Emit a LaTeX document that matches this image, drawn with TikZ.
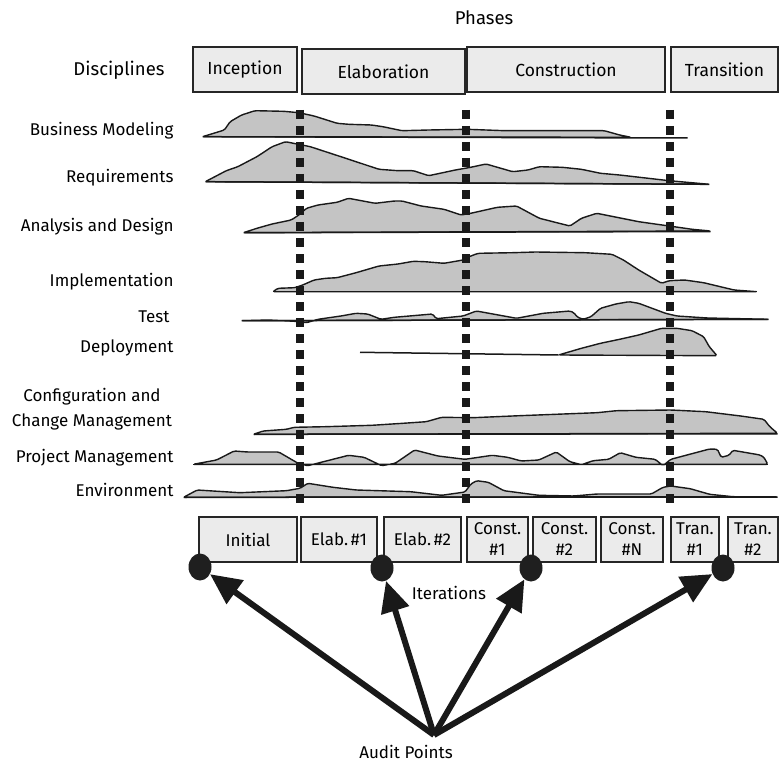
\documentclass[tikz,border=0pt]{standalone}
\usepackage{fontspec}
\setmainfont{Fira Sans}
\usetikzlibrary{positioning,shapes.geometric,arrows.meta}

\begin{document}
\begin{tikzpicture}[x=1pt, y=-1pt,
    nodes = {align = center, font=\fontsize{17}{23}\selectfont},
    phasebox/.style = {draw=black!85, fill=black!8, line width=1.4pt,
      minimum height=45pt, inner sep=0pt, font=\fontsize{17.5}{20}\selectfont},
    iterbox/.style = {draw=black!85, fill=black!8, line width=1.4pt,
      minimum height=45pt, inner sep=0pt, font=\fontsize{17}{21}\selectfont},
    hump/.style = {draw=black!90, fill=black!23, line width=1.4pt,
      rounded corners=1.5pt},
    axisline/.style = {draw=black!90, line width=1.5pt},
    milestone/.style = {draw=black!90, line width=7.5pt,
      dash pattern=on 9pt off 7pt},
    audit/.style = {ellipse, fill=black!88, minimum width=23pt,
      minimum height=27pt, inner sep=0pt}]
  \useasboundingbox (0,0) rectangle (779,762);

  % phases
  \node (phases) at (484,18) [font=\fontsize{18.5}{20}\selectfont] {Phases};
  \node (disc) at (119,70) [font=\fontsize{18.5}{20}\selectfont] {Disciplines};
  \node (incep) at (245,69.5) [phasebox, minimum width=104pt] {Inception};
  \node (elab) at (383.5,71.5) [phasebox, minimum width=163pt] {Elaboration};
  \node (const) at (566,69.5) [phasebox, minimum width=198pt] {Construction};
  \node (trans) at (724.5,69.5) [phasebox, minimum width=107pt] {Transition};

  % disciplines
  \node (bm) at (177,131) [anchor=east] {Business Modeling};
  \node (req) at (177,178) [anchor=east] {Requirements};
  \node (ad) at (177,227) [anchor=east] {Analysis and Design};
  \node (impl) at (177,282) [anchor=east] {Implementation};
  \node (test) at (173,317) [anchor=east] {Test};
  \node (depl) at (177,348) [anchor=east] {Deployment};
  \node (ccm) at (92,409.5) [font=\fontsize{17}{25}\selectfont]
    {Configuration and\\Change Management};
  \node (pm) at (177,458) [anchor=east] {Project Management};
  \node (env) at (177,490) [anchor=east] {Environment};

  % workload curves
  \filldraw[hump] (202.6,136.7) -- (224.4,130) -- (230.1,121.7) -- (241.6,115)
    -- (255,110.7) -- (283.6,111.3) -- (298.9,112.7) -- (314.1,116)
    -- (337.1,123.3) -- (348.5,124.3) -- (371.4,125) -- (382.9,126.7)
    -- (402,130.7) -- (428.7,130) -- (466.9,129.3) -- (505,130.7)
    -- (604.3,130.7) -- (619.6,135) -- (631,137.3) -- cycle;
  \draw[axisline] (202.6,136.7) -- (687.5,138);

  \filldraw[hump] (205.3,181.7) -- (226.3,170.7) -- (237.8,166.7) -- (256.9,156.7)
    -- (272.1,146.7) -- (285.5,141.7) -- (310.3,146.7) -- (340.9,156.7)
    -- (379,169.3) -- (398.1,170.7) -- (413.4,170.7) -- (428.7,175.7)
    -- (455.4,170) -- (470.7,167.3) -- (486,164) -- (512.7,171.7)
    -- (528,170) -- (539.4,166.7) -- (562.3,167.3) -- (581.4,169.3)
    -- (600.5,173.3) -- (619.6,175) -- (669.2,180.7) -- (709.3,184.3) -- cycle;
  \draw[axisline] (205.3,181.7) -- (709.3,184.3);

  \filldraw[hump] (243.5,232.7) -- (256.9,228.3) -- (272.1,224) -- (291.2,220)
    -- (298.9,215) -- (306.5,208.3) -- (318,205) -- (337.1,202.3)
    -- (348.5,198.3) -- (375.2,203.3) -- (394.3,201) -- (402,201)
    -- (421.1,206) -- (444,209.3) -- (461.1,215) -- (470.7,213.3)
    -- (497.4,207.3) -- (516.5,206) -- (539.4,218.3) -- (570,226)
    -- (581.4,218.3) -- (596.7,213.3) -- (638.7,221.7) -- (669.2,226)
    -- (692.1,229.3) -- (710.5,231) -- cycle;
  \draw[axisline] (243.5,232.7) -- (710.5,231.5);

  \filldraw[hump] (272.9,291.7) -- (277.9,288.3) -- (295,287.7) -- (302.7,285)
    -- (314.1,280) -- (325.6,278.3) -- (337.1,277.7) -- (356.1,272.7)
    -- (379,266) -- (398.1,264) -- (413.4,261.3) -- (424.9,261.7)
    -- (444,263.3) -- (463.1,260) -- (470.7,256) -- (478.3,253.3)
    -- (512.7,252.7) -- (535.6,252) -- (585.2,252.7) -- (612,254.3)
    -- (623.4,260) -- (638.7,270) -- (661.6,283.3) -- (669.2,280.7)
    -- (684.5,280) -- (703.6,282.7) -- (734.1,290) -- (757.1,291.7) -- cycle;
  \draw[axisline] (272.9,291.7) -- (757.1,291.7);

  \filldraw[hump] (241.6,320.7) -- (268.3,320) -- (295,321.3) -- (306.5,322.7)
    -- (318,319.3) -- (340.9,316) -- (356.1,313.3) -- (367.6,314)
    -- (381,319.3) -- (394.3,317.3) -- (432.5,314) -- (436.3,318.7)
    -- (463.1,316) -- (476.4,311) -- (516.5,318.3) -- (543.2,313.3)
    -- (570,311) -- (573.8,312.7) -- (577.6,317.3) -- (583.3,319.3)
    -- (591,316.7) -- (600.5,308.3) -- (615.8,304) -- (629.1,301.7)
    -- (638.7,303.3) -- (665.4,313.3) -- (676.9,316) -- (707.4,318)
    -- (768.5,319.3) -- cycle;
  \draw[axisline] (241.6,320.7) -- (768.5,319.3);

  \draw[axisline] (360,352.3) -- (558.5,355);
  \filldraw[hump] (558.5,355) -- (581.4,348.3) -- (600.5,343.3) -- (619.6,339.3)
    -- (638.7,335) -- (661.6,328.3) -- (676.9,328.3) -- (692.1,330.7)
    -- (703.6,336.7) -- (709.3,346.7) -- (717,355.7) -- cycle;

  \filldraw[hump] (253.5,434.3) -- (263.2,431) -- (286.5,429.3) -- (294.2,427.3)
    -- (325.3,426.7) -- (371.9,425.3) -- (402.9,423.3) -- (426.2,421.7)
    -- (441.7,417.3) -- (472.8,417.7) -- (519.4,415.7) -- (597,412.7)
    -- (616.4,410.7) -- (670.8,410) -- (705.7,411.7) -- (740.7,416)
    -- (763.9,419.3) -- (769.8,426.7) -- (777.5,433.3) -- cycle;
  \draw[axisline] (253.5,434.3) -- (777.5,433.8);

  \filldraw[hump] (193.3,464.3) -- (216.6,460) -- (234.1,451) -- (247.6,452)
    -- (278.7,452) -- (298.1,463.3) -- (307.8,465.7) -- (348.6,455.3)
    -- (364.1,457.3) -- (381.6,465.7) -- (395.2,463.3) -- (414.6,450)
    -- (437.9,456) -- (465,459.3) -- (492.2,455.3) -- (507.7,457.3)
    -- (521.3,461) -- (538.8,460) -- (556.3,452) -- (569.8,461.7)
    -- (581.5,464.7) -- (593.1,460.7) -- (608.7,459.3) -- (620.3,452.7)
    -- (635.8,457.3) -- (655.2,459.3) -- (663,465.7) -- (670.8,459.3)
    -- (709.6,449) -- (717.4,449.3) -- (721.2,457.3) -- (729,455.3)
    -- (732.9,450.3) -- (760.1,455) -- (763.9,457.3) -- (767.8,464.3) -- cycle;
  \draw[axisline] (193.3,464.3) -- (767.8,464.3);

  \filldraw[hump] (183.6,497.3) -- (197.2,490) -- (239.9,492.7) -- (286.5,490.7)
    -- (300,488.3) -- (307.8,483.3) -- (333,487.3) -- (356.3,490)
    -- (410.7,491.7) -- (441.7,495.3) -- (465,492) -- (470.9,484)
    -- (476.7,480.7) -- (488.3,482.3) -- (503.9,490.7) -- (538.8,495.3)
    -- (573.7,496) -- (597,494) -- (651.4,494) -- (663,487.3)
    -- (670.8,486) -- (690.2,488.7) -- (709.6,494.3) -- (732.9,496.7)
    -- (777.5,496.7) -- cycle;
  \draw[axisline] (183.6,497.3) -- (777.5,497);

  % phase borders
  \coordinate (m1top) at (300,110);
  \coordinate (m1bot) at (300,509);
  \coordinate (m2top) at (466,110);
  \coordinate (m2bot) at (466,509);
  \coordinate (m3top) at (670,110);
  \coordinate (m3bot) at (670,509);
  \draw[milestone] (m1top) -- (m1bot);
  \draw[milestone] (m2top) -- (m2bot);
  \draw[milestone] (m3top) -- (m3bot);

  % iterations
  \node (it1) at (248,539.5) [iterbox, minimum width=98pt] {Initial};
  \node (it2) at (339,539.5) [iterbox, minimum width=76pt] {Elab.\,\#1};
  \node (it3) at (422.5,539.5) [iterbox, minimum width=77pt] {Elab.\,\#2};
  \node (it4) at (497.5,539.5) [iterbox, minimum width=61pt] {Const.\\\#1};
  \node (it5) at (564.5,539.5) [iterbox, minimum width=63pt] {Const.\\\#2};
  \node (it6) at (632,539.5) [iterbox, minimum width=62pt] {Const.\\\#N};
  \node (it7) at (695,539.5) [iterbox, minimum width=48pt] {Tran.\\\#1};
  \node (it8) at (753,539.5) [iterbox, minimum width=50pt] {Tran.\\\#2};
  \node (iters) at (449,593) {Iterations};

  % audit points
  \node (ap1) at (200,567) [audit] {};
  \node (ap2) at (382,568) [audit] {};
  \node (ap3) at (531,568) [audit] {};
  \node (ap4) at (723,568) [audit] {};
  \coordinate (apex) at (434,735);
  \node (audit) at (406,752) {Audit Points};

  \path[-{Triangle[length=31pt,width=28pt]}, line width=6pt, color=black!90]
    (apex) edge (ap1) edge (ap2) edge (ap3) edge (ap4);
\end{tikzpicture}
\end{document}
